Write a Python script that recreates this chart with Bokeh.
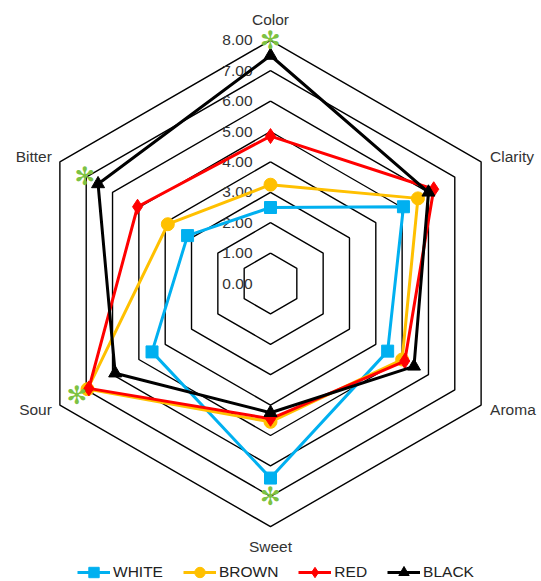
import numpy as np
from bokeh.plotting import figure
from bokeh.models import Range1d, ColumnDataSource, Legend, LegendItem
from bokeh.core.properties import value
from bokeh.embed import file_html
from bokeh.resources import INLINE

# ---------------- data ----------------
categories = ["Color", "Clarity", "Aroma", "Sweet", "Sour", "Bitter"]
white = [2.5, 5.05, 4.45, 6.4, 4.5, 3.15]
brown = [3.25, 5.6, 5.0, 4.55, 6.95, 3.9]
red = [4.85, 6.2, 5.1, 4.45, 6.9, 5.05]
black = [7.5, 6.0, 5.45, 4.25, 5.9, 6.55]
signif = [8.0, None, None, 7.0, 7.35, 7.05]   # green asterisk marks
tick_values = [0, 1, 2, 3, 4, 5, 6, 7, 8]
tick_labels = ["0.00", "1.00", "2.00", "3.00", "4.00", "5.00", "6.00", "7.00", "8.00"]
series_names = ["WHITE", "BROWN", "RED", "BLACK"]

# ---------------- layout ----------------
W, H = 541, 581
CX, CY = 270, 283          # pixel centre of the radar
S = 30.4                   # pixels per unit
FONT = "Liberation Sans"
TXT = "#333333"

angles = np.deg2rad([90 - 60 * i for i in range(len(categories))])

def polar(vals):
    xs, ys = [], []
    for v, a in zip(vals, angles):
        xs.append(v * np.cos(a))
        ys.append(v * np.sin(a))
    return xs, ys

p = figure(width=W, height=H, output_backend="svg", toolbar_location=None,
           x_range=Range1d(-CX / S, (W - CX) / S),
           y_range=Range1d(-(H - CY) / S, CY / S),
           min_border=0)
p.xaxis.visible = False
p.yaxis.visible = False
p.grid.visible = False
p.outline_line_color = None
p.background_fill_color = "white"

# hexagonal grid rings
ring_xs, ring_ys = [], []
for v in tick_values[1:]:
    xs, ys = polar([v] * len(categories))
    ring_xs.append(xs + [xs[0]])
    ring_ys.append(ys + [ys[0]])
p.multi_line(ring_xs, ring_ys, line_color="black", line_width=1.4)

# tick labels along the Color axis
p.text(x=[-18 / S] * len(tick_values), y=tick_values, text=tick_labels,
       text_align="right", text_baseline="middle",
       text_font=value(FONT), text_font_size="15.5px", text_color=TXT)

# category labels
offsets = [(0, -21, "center"), (9, -5, "left"), (9, 4, "left"),
           (0, 20, "center"), (-8, 4, "right"), (-8, -5, "right")]
vx, vy = polar([8] * len(categories))
for c, (dx, dy, al), x0, y0 in zip(categories, offsets, vx, vy):
    p.text(x=[x0 + dx / S], y=[y0 - dy / S], text=[c], text_align=al,
           text_baseline="middle", text_font=value(FONT),
           text_font_size="15.5px", text_color=TXT)

# series
styles = [
    (white, "#00B0F0", "square", 12),
    (brown, "#FFC000", "circle", 13),
    (red, "#FF0000", "diamond", 15),
    (black, "#000000", "triangle", 13),
]
items = []
for name, (vals, col, mk, sz) in zip(series_names, styles):
    xs, ys = polar(vals)
    src = ColumnDataSource(dict(x=xs, y=ys))
    lr = p.line(xs + [xs[0]], ys + [ys[0]], line_color=col, line_width=3,
                line_join="round")
    sr = p.scatter("x", "y", source=src, marker=mk, size=sz,
                   fill_color=col, line_color=col)
    items.append(LegendItem(label=name, renderers=[lr, sr]))

# green asterisks
ax, ay = [], []
for v, a in zip(signif, angles):
    if v is not None:
        ax.append(v * np.cos(a))
        ay.append(v * np.sin(a))
p.text(x=ax, y=ay, text=["✻"] * len(ax), text_align="center",
       text_baseline="middle", text_font=value("DejaVu Sans"),
       text_font_size="25px", text_color="#7DC242")

legend = Legend(items=items, orientation="horizontal", location=(77, -4),
                padding=0, margin=0, spacing=20, glyph_width=33,
                glyph_height=26, label_height=16, label_standoff=3,
                label_text_font=FONT, label_text_font_size="15.5px",
                label_text_color="#222222", border_line_color=None,
                background_fill_alpha=0)
p.add_layout(legend)

open("out.html", "w").write(file_html(p, INLINE))
